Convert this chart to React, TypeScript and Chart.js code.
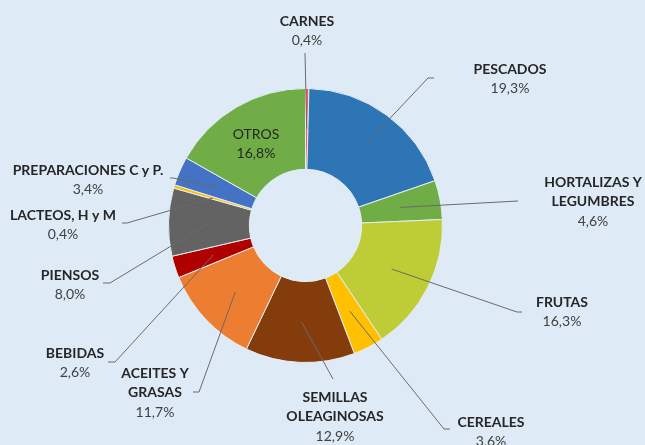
import React, { useEffect, useRef } from "react";
import { Chart, registerables } from "chart.js";

Chart.register(...registerables);

const categories = [
  "CARNES",
  "PESCADOS",
  "HORTALIZAS Y\nLEGUMBRES",
  "FRUTAS",
  "CEREALES",
  "SEMILLAS\nOLEAGINOSAS",
  "ACEITES Y\nGRASAS",
  "BEBIDAS",
  "PIENSOS",
  "LACTEOS, H y M",
  "PREPARACIONES C y P.",
  "OTROS",
];
const values = [0.4, 19.3, 4.6, 16.3, 3.6, 12.9, 11.7, 2.6, 8.0, 0.4, 3.4, 16.8];
const colors = [
  "#FF5B5B",
  "#2E75B6",
  "#70AD47",
  "#BECD36",
  "#FFC000",
  "#843C0C",
  "#ED7D31",
  "#B00000",
  "#636363",
  "#FFC000",
  "#4472C4",
  "#70AD47",
];

// label layout, offsets from the doughnut centre (text centre of first line, leader elbow, tick end)
const LAYOUT: { dx: number; dy: number; ex?: number; ey?: number; tx?: number; inside?: boolean }[] = [
  { dx: 1.5, dy: -204.5, ex: -0.5, ey: -172.5 },
  { dx: 204.5, dy: -156.5, ex: 122.5, ey: -147.5, tx: 128.5 },
  { dx: 287.5, dy: -43.5, ex: 212.5, ey: -24.5 },
  { dx: 256.5, dy: 76.5, ex: 211.5, ey: 86.5, tx: 216.5 },
  { dx: 185.5, dy: 196.5, ex: 138.5, ey: 203.5, tx: 144.5 },
  { dx: 29.5, dy: 171.5, ex: 27.5, ey: 153.5 },
  { dx: -150.5, dy: 147.5, ex: -106.5, ey: 166.5, tx: -112.5 },
  { dx: -230.5, dy: 127.5, ex: -190.5, ey: 136.5, tx: -197.5 },
  { dx: -235.5, dy: 49.5, ex: -195.5, ey: 57.5, tx: -202.5 },
  { dx: -242.5, dy: -10.5, ex: -178.5, ey: -2.5, tx: -183.5 },
  { dx: -217.5, dy: -55.5, ex: -132.5, ey: -47.5, tx: -135.5 },
  { dx: -49.5, dy: -91.5, inside: true },
];

const FONT = 'Lato, "Open Sans", sans-serif';
const LINE_H = 19.7;

const fmt = (v: number) => v.toFixed(1).replace(".", ",") + "%";

const labelPlugin = {
  id: "leaderLabels",
  afterDatasetsDraw(chart: any) {
    const ctx = chart.ctx as CanvasRenderingContext2D;
    const meta = chart.getDatasetMeta(0);
    ctx.save();
    meta.data.forEach((arc: any, i: number) => {
      const p = arc.getProps(["x", "y", "startAngle", "endAngle", "innerRadius", "outerRadius"], true);
      const L = LAYOUT[i];
      const cx = p.x;
      const cy = p.y;
      if (!L.inside && L.ex !== undefined && L.ey !== undefined) {
        const mid = (p.startAngle + p.endAngle) / 2;
        const r = (p.innerRadius + p.outerRadius) / 2;
        const sx = cx + Math.cos(mid) * r;
        const sy = cy + Math.sin(mid) * r;
        ctx.beginPath();
        ctx.strokeStyle = "#6a6a6a";
        ctx.lineWidth = 1;
        ctx.moveTo(sx, sy);
        ctx.lineTo(cx + L.ex, cy + L.ey);
        if (L.tx !== undefined) ctx.lineTo(cx + L.tx, cy + L.ey);
        ctx.stroke();
      }
      const lines = categories[i].split("\n");
      ctx.textAlign = "center";
      ctx.textBaseline = "middle";
      let y = cy + L.dy;
      lines.forEach((ln) => {
        ctx.font = (L.inside ? "" : "bold ") + "14px " + FONT;
        ctx.fillStyle = "#262626";
        ctx.fillText(ln, cx + L.dx, y);
        y += LINE_H;
      });
      ctx.font = "14px " + FONT;
      ctx.fillStyle = L.inside ? "#262626" : "#404040";
      ctx.fillText(fmt(values[i]), cx + L.dx, y);
    });
    ctx.restore();
  },
};

export default function App() {
  const ref = useRef<HTMLCanvasElement | null>(null);
  useEffect(() => {
    if (!ref.current) return;
    const chart = new Chart(ref.current, {
      type: "doughnut",
      data: {
        labels: categories.map((c) => c.replace("\n", " ")),
        datasets: [
          {
            data: values,
            backgroundColor: colors,
            borderColor: "#e4ecf4",
            borderWidth: 1,
          },
        ],
      },
      options: {
        responsive: false,
        animation: false,
        cutout: "41%",
        layout: { padding: { left: 168, top: 88, right: 202, bottom: 82 } },
        plugins: {
          legend: { display: false },
          tooltip: { enabled: false },
        },
      },
      plugins: [labelPlugin],
    });
    return () => chart.destroy();
  }, []);
  return (
    <div
      style={{
        position: "fixed",
        left: 0,
        top: 0,
        width: 645,
        height: 445,
        background: "#DEEBF7",
        overflow: "hidden",
      }}
    >
      <canvas ref={ref} width={645} height={445} style={{ width: 645, height: 445, display: "block" }} />
    </div>
  );
}
